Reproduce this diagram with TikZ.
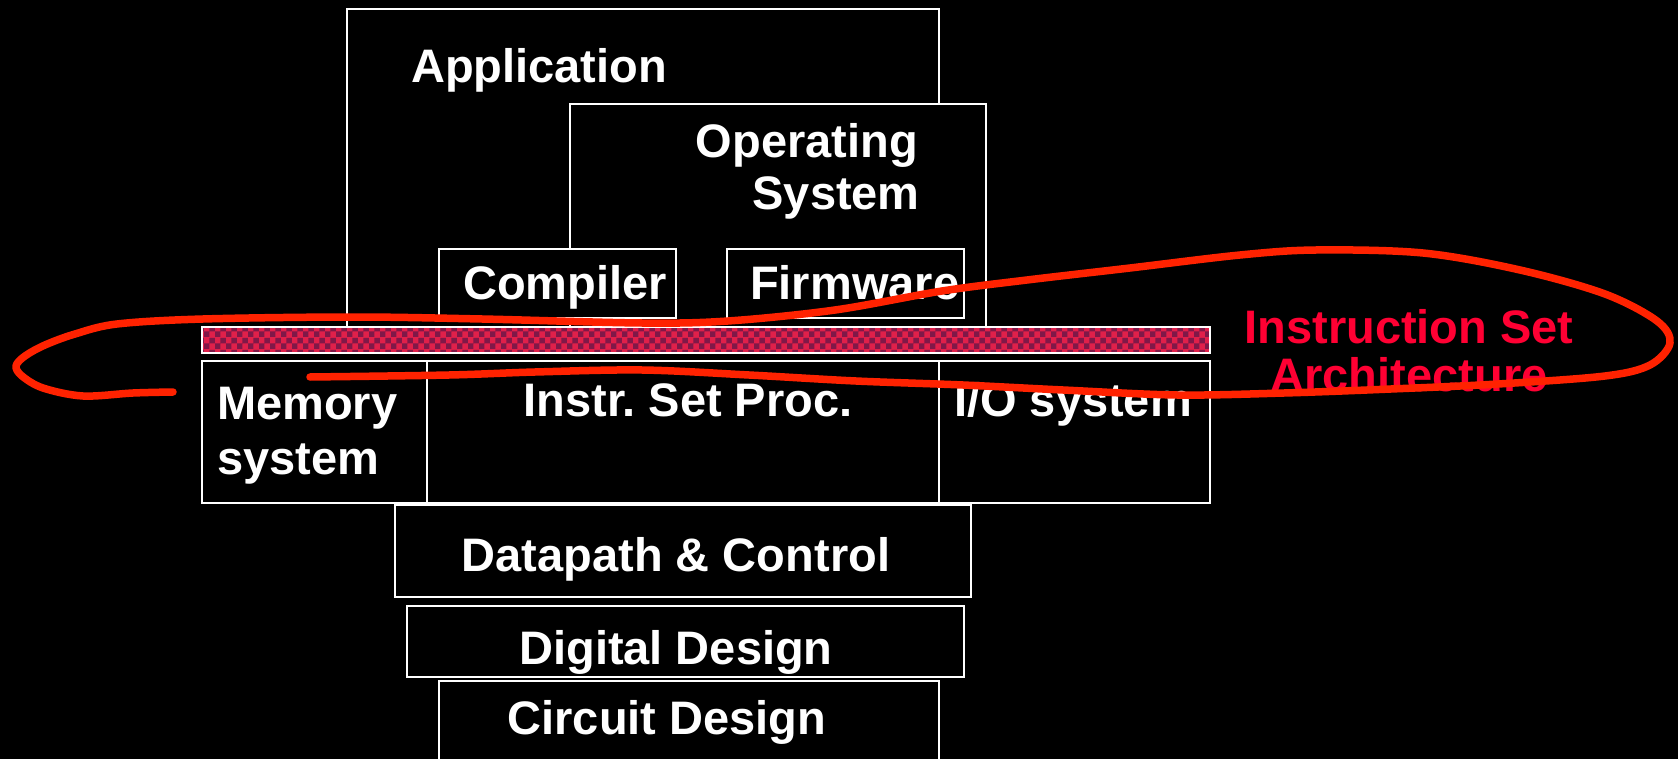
\documentclass[tikz,border=0pt]{standalone}
\usepackage{fontspec}
\setmainfont{Liberation Sans}
\usetikzlibrary{patterns}
\definecolor{isared}{HTML}{E0204A}
\definecolor{isadark}{HTML}{801848}
\definecolor{isatext}{HTML}{FF0033}
\definecolor{penred}{HTML}{FF2200}
\tikzset{
  box/.style={draw=white, line width=2.5pt, fill=black},
  lbl/.style={text=white, inner sep=0pt, font=\bfseries\fontsize{47}{52}\selectfont},
  isalbl/.style={lbl, text=isatext},
  pen/.style={draw=penred, line width=7.5pt, line cap=round, line join=round}
}
\begin{document}
\begin{tikzpicture}[x=1pt, y=-1pt]
  % page and background
  \useasboundingbox (0,0) rectangle (1678,759);
  \fill[black] (0,0) rectangle (1678,759);
  \clip (0,0) rectangle (1678,759);

  % software layers
  \path[box] (347,9) rectangle (939,327);
  \path[box] (570,104) rectangle (986,327);
  \path[box] (439,249) rectangle (676,318);
  \path[box] (727,249) rectangle (964,318);

  % instruction set boundary
  \path[draw=white, line width=2.5pt, preaction={fill=isared},
        pattern=checkerboard, pattern color=isadark] (202,327) rectangle (1210,353);

  % hardware layers
  \path[box] (202,361) rectangle (427,503);
  \path[box] (427,361) rectangle (939,503);
  \path[box] (939,361) rectangle (1210,503);
  \path[box] (395,505) rectangle (971,597);
  \path[box] (407,606) rectangle (964,677);
  \path[box] (439,681) rectangle (939,790);

  % labels
  \node[lbl, anchor=base west] (app) at (411,83) {Application};
  \node[lbl, anchor=base east] (os1) at (918,158) {Operating};
  \node[lbl, anchor=base east] (os2) at (920,210) {System};
  \node[lbl, anchor=base] (comp) at (565,299) {Compiler};
  \node[lbl, anchor=base west] (firm) at (750,299) {Firmware};
  \node[lbl, anchor=base west] (mem1) at (217,419) {Memory};
  \node[lbl, anchor=base west] (mem2) at (217,474) {system};
  \node[lbl, anchor=base] (isp) at (688,416) {Instr.\ Set Proc.};
  \node[lbl, anchor=base west] (io) at (954,416) {I/O system};
  \node[lbl, anchor=base] (dp) at (676,571) {Datapath \& Control};
  \node[lbl, anchor=base] (dd) at (676,664) {Digital Design};
  \node[lbl, anchor=base] (cd) at (667,734) {Circuit Design};
  \node[isalbl, anchor=base] (isa1) at (1409,343) {Instruction Set};
  \node[isalbl, anchor=base] (isa2) at (1409,391) {Architecture};

  % hand-drawn loop around the instruction set boundary
  \draw[pen] plot[smooth, tension=0.55] coordinates {
    (173,392) (133,393) (83,396) (43,388) (22,376) (16,366) (25,356)
    (45,345) (75,334) (117,324) (203,319) (353,317) (482,319) (642,323)
    (728,321) (835,310) (942,291) (1027,280) (1130,268) (1240,255)
    (1316,250) (1423,253) (1520,270) (1605,294) (1657,321) (1670,343)
    (1650,365) (1605,376) (1498,384) (1391,389) (1284,393) (1177,395)
    (1063,390) (963,385) (856,381) (749,375) (642,370) (535,372)
    (449,375) (310,377)};
\end{tikzpicture}
\end{document}
